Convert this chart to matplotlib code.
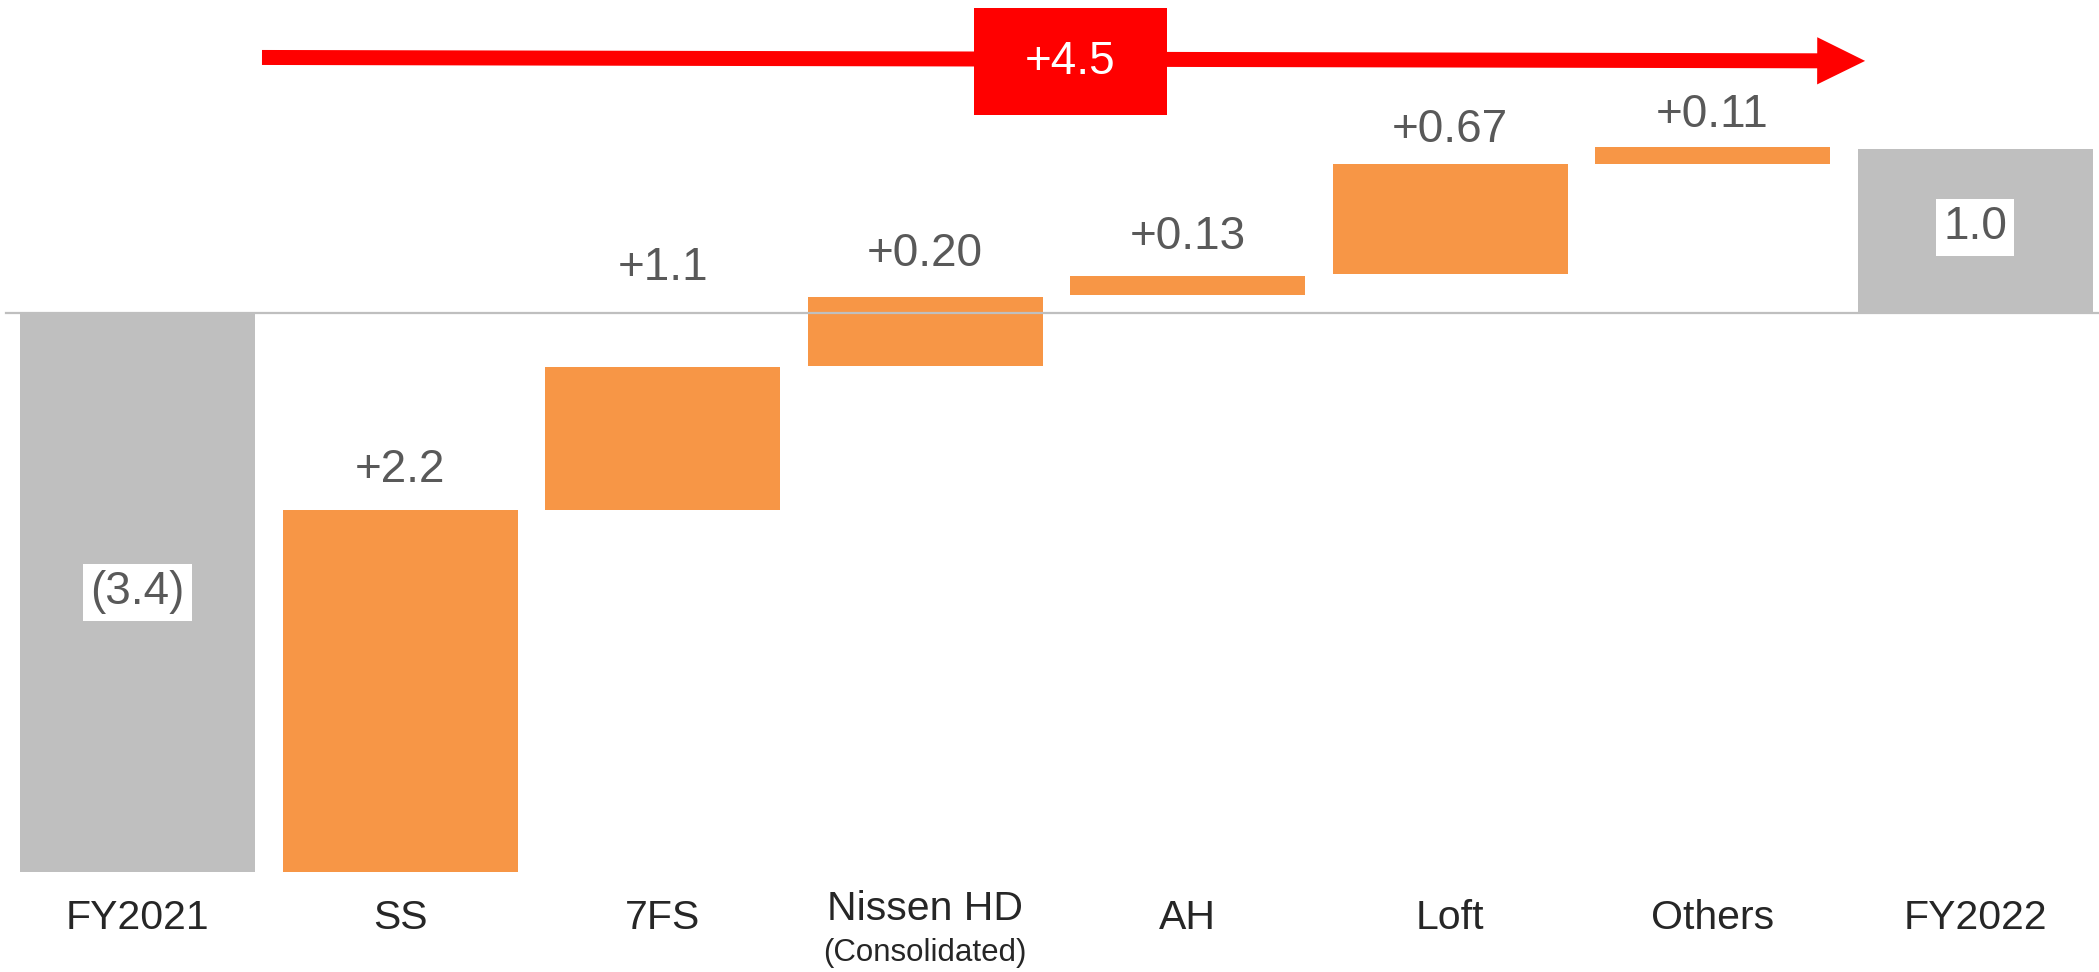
import numpy as np
import matplotlib
matplotlib.use("Agg")
import matplotlib.pyplot as plt

plt.rcParams['font.family'] = ['Liberation Sans', 'DejaVu Sans']

# datos (cascada, miles de millones)
categorias = ['FY2021', 'SS', '7FS', 'Nissen HD', 'AH', 'Loft', 'Others', 'FY2022']
base_barra = [-3.40, -3.40, -1.20, -0.32, 0.11, 0.24, 0.91, 0.00]
tope_barra = [0.00, -1.20, -0.33, 0.10, 0.23, 0.91, 1.01, 1.00]
es_total = [True, False, False, False, False, False, False, True]

etiquetas_delta = ['+2.2', '+1.1', '+0.20', '+0.13', '+0.67', '+0.11']
etiqueta_y = [-0.954, 0.278, 0.359, 0.465, 1.117, 1.207]
etiquetas_total = ['(3.4)', '1.0']
total_y = [-1.70, 0.523]
variacion_total = '+4.5'

NARANJA = '#F79646'
GRIS = '#BFBFBF'
ROJO = '#FF0000'
TEXTO = '#595959'
TEXTO_CAT = '#262626'


def main():
    fig = plt.figure(figsize=(20.99, 9.72), dpi=100)
    ax = fig.add_axes([0, 0, 1, 1])
    ax.set_xlim(-0.524, 7.472)
    ax.set_ylim(-4.012, 1.908)
    ax.axis('off')

    x = np.arange(len(categorias))
    bottoms = np.array(base_barra)
    alturas = np.array(tope_barra) - bottoms
    colores = [GRIS if t else NARANJA for t in es_total]
    ax.bar(x, alturas, bottom=bottoms, width=0.895, color=colores,
           edgecolor='none', zorder=2)

    # linea de cero
    ax.axhline(0, xmin=0.003, xmax=1, color=GRIS, lw=1.6, zorder=3)

    # etiquetas de variacion
    idx_delta = [i for i, t in enumerate(es_total) if not t]
    for i, txt, yy in zip(idx_delta, etiquetas_delta, etiqueta_y):
        ax.text(x[i], yy, txt, ha='center', va='center', fontsize=33,
                color=TEXTO, zorder=4)

    # totales en caja blanca
    idx_total = [i for i, t in enumerate(es_total) if t]
    for i, txt, yy in zip(idx_total, etiquetas_total, total_y):
        ax.text(x[i], yy, txt, ha='center', va='center', fontsize=33,
                color=TEXTO, zorder=4,
                bbox=dict(facecolor='white', edgecolor='none', pad=5))

    # categorias
    for i, cat in enumerate(categorias):
        if cat == 'Nissen HD':
            ax.text(x[i], -3.631, cat, ha='center', va='center', fontsize=29.5,
                    color=TEXTO_CAT)
            ax.text(x[i], -3.896, '(Consolidated)', ha='center', va='center',
                    fontsize=22.5, color=TEXTO_CAT)
        else:
            ax.text(x[i], -3.686, cat, ha='center', va='center', fontsize=29.5,
                    color=TEXTO_CAT)

    # flecha roja de variacion total
    ax.annotate('', xy=(6.581, 1.537), xytext=(0.474, 1.558),
                arrowprops=dict(facecolor=ROJO, edgecolor='none', width=10.8,
                                headwidth=34, headlength=34.5, shrink=0),
                zorder=5)
    ax.add_patch(plt.Rectangle((3.187, 1.208), 3.922 - 3.187, 1.859 - 1.208,
                               facecolor=ROJO, edgecolor='none', zorder=6))
    ax.text(3.554, 1.53, variacion_total, ha='center', va='center',
            fontsize=33, color='white', zorder=7)

    fig.savefig('out.png', dpi=100)


if __name__ == '__main__':
    main()
